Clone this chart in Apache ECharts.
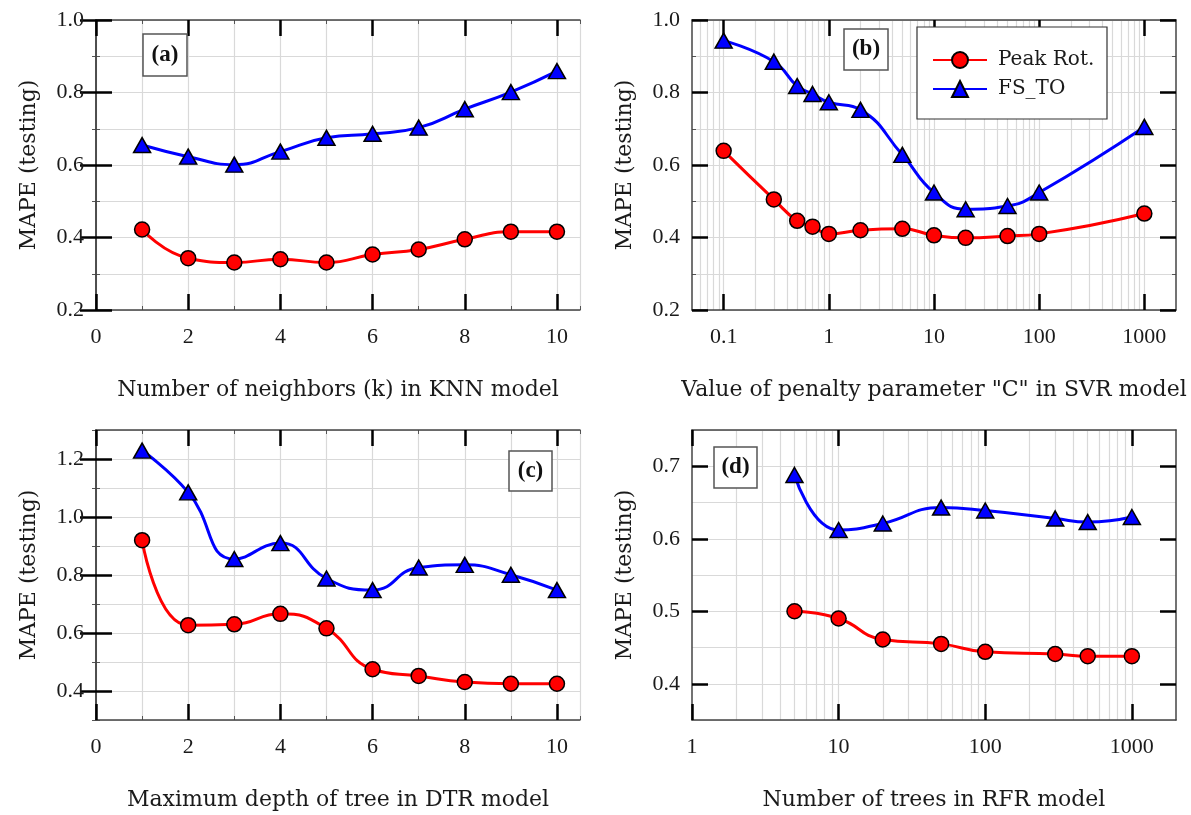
<!DOCTYPE html>
<html>
<head>
<meta charset="utf-8">
<script src="https://cdn.jsdelivr.net/npm/echarts@6/dist/echarts.min.js"></script>
<style>
  html, body { margin: 0; padding: 0; background: #fff; }
  #main { width: 1191px; height: 815px; }
</style>
</head>
<body>
<div id="main"></div>
<script>
// (a) KNN: number of neighbors
var knnK = [1, 2, 3, 4, 5, 6, 7, 8, 9, 10];
var knnPeak = [0.422, 0.343, 0.331, 0.340, 0.331, 0.353, 0.367, 0.395, 0.416, 0.416];
var knnFs = [0.655, 0.623, 0.601, 0.637, 0.675, 0.686, 0.703, 0.754, 0.801, 0.859];

// (b) SVR: penalty parameter C
var svrC = [0.1, 0.3, 0.5, 0.7, 1, 2, 5, 10, 20, 50, 100, 1000];
var svrPeak = [0.639, 0.505, 0.446, 0.430, 0.410, 0.420, 0.424, 0.406, 0.399, 0.404, 0.410, 0.466];
var svrFs = [0.943, 0.885, 0.818, 0.796, 0.773, 0.752, 0.628, 0.524, 0.478, 0.487, 0.524, 0.705];

// (c) DTR: maximum depth
var dtrDepth = [1, 2, 3, 4, 5, 6, 7, 8, 9, 10];
var dtrPeak = [0.920, 0.627, 0.630, 0.666, 0.616, 0.475, 0.452, 0.431, 0.425, 0.425];
var dtrFs = [1.229, 1.085, 0.855, 0.910, 0.788, 0.748, 0.826, 0.835, 0.801, 0.748];

// (d) RFR: number of trees
var rfrTrees = [5, 10, 20, 50, 100, 300, 500, 1000];
var rfrPeak = [0.500, 0.490, 0.461, 0.455, 0.444, 0.441, 0.438, 0.438];
var rfrFs = [0.688, 0.612, 0.621, 0.643, 0.639, 0.628, 0.623, 0.630];

// tick labels
var xTicksLin = [0, 2, 4, 6, 8, 10];
var xTicksSvr = [0.1, 1, 10, 100, 1000];
var xTicksRfr = [1, 10, 100, 1000];
var yTicksAB = [0.2, 0.4, 0.6, 0.8, 1.0];
var yTicksC = [0.4, 0.6, 0.8, 1.0, 1.2];
var yTicksD = [0.4, 0.5, 0.6, 0.7];

var FONT_TICK = 'Liberation Serif';
var FONT_NAME = 'DejaVu Serif';
var GRID_W = 484, GRID_H = 290;

// 1..9 x 10^n inside (lo, hi), for log grid lines
function logGridValues(lo, hi) {
    var out = [];
    for (var e = -3; e <= 4; e++) {
        for (var k = 1; k <= 9; k++) {
            var v = +(k * Math.pow(10, e)).toPrecision(6);
            if (v > lo && v < hi) out.push(v);
        }
    }
    return out;
}

var panels = [
    {pos: [96, 20], tag: '(a)', tagBox: [143, 34, 44, 42], xLog: false, xMin: 0, xMax: 10.5, xStep: 1, xTicks: xTicksLin,
        yMin: 0.2, yMax: 1.0, yStep: 0.1, yTicks: yTicksAB, yMinor: true,
        xName: 'Number of neighbors (k) in KNN model', x: knnK, peak: knnPeak, fs: knnFs},
    {pos: [692, 20], tag: '(b)', tagBox: [844, 29, 44, 41], xLog: true, xMin: 0.05, xMax: 2000, xTicks: xTicksSvr,
        yMin: 0.2, yMax: 1.0, yStep: 0.1, yTicks: yTicksAB, yMinor: true,
        xName: 'Value of penalty parameter "C" in SVR model', x: svrC, peak: svrPeak, fs: svrFs},
    {pos: [96, 430], tag: '(c)', tagBox: [509, 451, 43, 40], xLog: false, xMin: 0, xMax: 10.5, xStep: 1, xTicks: xTicksLin,
        yMin: 0.3, yMax: 1.3, yStep: 0.1, yTicks: yTicksC, yMinor: true,
        xName: 'Maximum depth of tree in DTR model', x: dtrDepth, peak: dtrPeak, fs: dtrFs},
    {pos: [692, 430], tag: '(d)', tagBox: [714, 447, 43, 41], xLog: true, xMin: 1, xMax: 2000, xTicks: xTicksRfr,
        yMin: 0.35, yMax: 0.75, yStep: 0.05, yTicks: yTicksD, yMinor: false,
        xName: 'Number of trees in RFR model', x: rfrTrees, peak: rfrPeak, fs: rfrFs}
];

var grids = [], xAxes = [], yAxes = [], series = [], graphics = [];

function fmtX(v) { return String(+(+v).toPrecision(6)); }
function fmtY(v) { return (+v).toFixed(1); }

panels.forEach(function (p, i) {
    grids.push({left: p.pos[0], top: p.pos[1], width: GRID_W, height: GRID_H, show: false});

    var xType = p.xLog ? 'log' : 'value';

    // x: grid lines + small ticks
    ['bottom', 'top'].forEach(function (side, k) {
        var ax = {
            gridIndex: i, type: xType, min: p.xMin, max: p.xMax, position: side, z: 0,
            axisLine: {show: false}, axisLabel: {show: false},
            axisTick: {show: !p.xLog, inside: true, length: 4, lineStyle: {color: '#555', width: 1}},
            splitLine: {show: k === 0, lineStyle: {color: '#d9d9d9', width: 1.2}}
        };
        if (p.xLog) ax.axisTick.customValues = logGridValues(p.xMin, p.xMax);
        else ax.interval = p.xStep;
        xAxes.push(ax);
    });
    // x: frame, major ticks, labels
    var mainX = xAxes.length;
    ['bottom', 'top'].forEach(function (side, k) {
        var ax = {
            gridIndex: i, type: xType, min: p.xMin, max: p.xMax, position: side, z: 1,
            axisLine: {show: true, lineStyle: {color: '#444', width: 1.5}},
            axisTick: {show: true, inside: true, length: 16, customValues: p.xTicks, lineStyle: {color: '#000', width: 2.5}},
            axisLabel: {show: k === 0, customValues: p.xTicks, margin: 16, formatter: fmtX,
                fontFamily: FONT_TICK, fontSize: 22, color: '#1a1a1a'},
            splitLine: {show: false}
        };
        if (k === 0) {
            ax.name = p.xName;
            ax.nameLocation = 'middle';
            ax.nameGap = 69;
            ax.nameTextStyle = {fontFamily: FONT_NAME, fontSize: 22, color: '#1a1a1a'};
        }
        xAxes.push(ax);
    });

    // y: grid lines + small ticks
    ['left', 'right'].forEach(function (side, k) {
        yAxes.push({
            gridIndex: i, type: 'value', min: p.yMin, max: p.yMax, interval: p.yStep, position: side, z: 0,
            axisLine: {show: false}, axisLabel: {show: false},
            axisTick: {show: p.yMinor, inside: true, length: 4, lineStyle: {color: '#555', width: 1}},
            splitLine: {show: k === 0, lineStyle: {color: '#d9d9d9', width: 1.2}}
        });
    });
    // y: frame, major ticks, labels
    var mainY = yAxes.length;
    ['left', 'right'].forEach(function (side, k) {
        var ax = {
            gridIndex: i, type: 'value', min: p.yMin, max: p.yMax, position: side, z: 1,
            axisLine: {show: true, lineStyle: {color: '#444', width: 1.5}},
            axisTick: {show: true, inside: true, length: 16, customValues: p.yTicks, lineStyle: {color: '#000', width: 2.5}},
            axisLabel: {show: k === 0, customValues: p.yTicks, margin: 12, formatter: fmtY,
                fontFamily: FONT_TICK, fontSize: 22, color: '#1a1a1a'},
            splitLine: {show: false}
        };
        if (k === 0) {
            ax.name = 'MAPE (testing)';
            ax.nameLocation = 'middle';
            ax.nameGap = 56;
            ax.nameTextStyle = {fontFamily: FONT_NAME, fontSize: 22, color: '#1a1a1a'};
        }
        yAxes.push(ax);
    });

    series.push({
        name: 'Peak Rot.', type: 'line', xAxisIndex: mainX, yAxisIndex: mainY, z: 3,
        data: p.x.map(function (x, j) { return [x, p.peak[j]]; }),
        smooth: true, symbol: 'circle', symbolSize: 15,
        lineStyle: {color: '#ff0000', width: 3},
        itemStyle: {color: '#ff0000', borderColor: '#000', borderWidth: 1.5}
    });
    series.push({
        name: 'FS_TO', type: 'line', xAxisIndex: mainX, yAxisIndex: mainY, z: 3,
        data: p.x.map(function (x, j) { return [x, p.fs[j]]; }),
        smooth: true, symbol: 'triangle', symbolSize: [17, 15],
        lineStyle: {color: '#0000ff', width: 3},
        itemStyle: {color: '#0000ff', borderColor: '#000', borderWidth: 1.5}
    });

    // panel tag box
    var b = p.tagBox;
    graphics.push({
        type: 'rect', z: 50, shape: {x: b[0], y: b[1], width: b[2], height: b[3]},
        style: {fill: '#fff', stroke: '#555', lineWidth: 1.5}
    });
    graphics.push({
        type: 'text', z: 51, x: b[0] + b[2] / 2, y: b[1] + b[3] / 2,
        style: {text: p.tag, fill: '#111', font: 'bold 23px "Liberation Serif"', align: 'center', verticalAlign: 'middle'}
    });
});

// legend frame inside panel (b)
graphics.push({
    type: 'rect', z: 50, shape: {x: 917, y: 27, width: 190, height: 92},
    style: {fill: '#fff', stroke: '#333', lineWidth: 1.2}
});

var chart = echarts.init(document.getElementById('main'));
chart.setOption({
    animation: false,
    backgroundColor: '#fff',
    grid: grids,
    xAxis: xAxes,
    yAxis: yAxes,
    legend: {
        data: ['Peak Rot.', 'FS_TO'], orient: 'vertical', left: 932, top: 50, z: 60,
        padding: 0, itemWidth: 54, itemHeight: 20, itemGap: 9, selectedMode: false,
        textStyle: {fontFamily: FONT_NAME, fontSize: 20, color: '#1a1a1a', padding: [0, 0, 0, 6]}
    },
    graphic: graphics,
    series: series
});
</script>
</body>
</html>
